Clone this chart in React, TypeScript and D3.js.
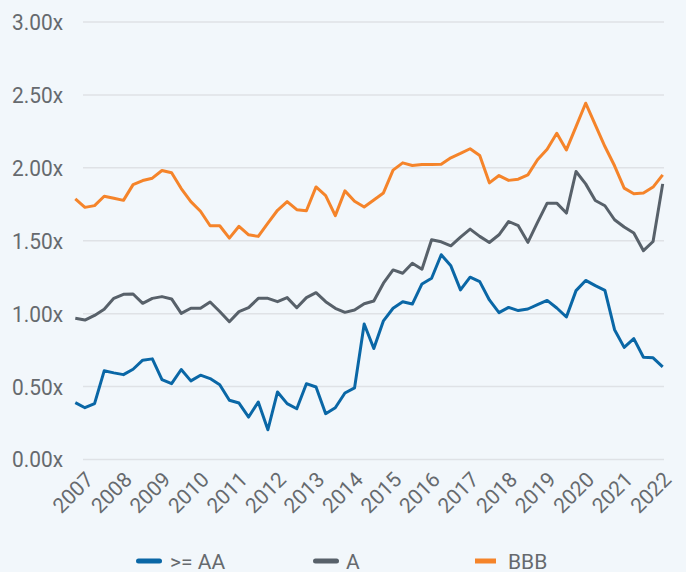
import * as d3 from "d3";

// quarterly points, Q1 2007 .. Q2 2022
const years = [
  "2007", "2008", "2009", "2010", "2011", "2012", "2013", "2014",
  "2015", "2016", "2017", "2018", "2019", "2020", "2021", "2022",
];

const aaPlus = [
  0.39, 0.355, 0.383, 0.608, 0.594, 0.582, 0.619, 0.681, 0.69, 0.548,
  0.52, 0.617, 0.539, 0.578, 0.555, 0.513, 0.406, 0.387, 0.291, 0.394,
  0.204, 0.463, 0.383, 0.348, 0.52, 0.497, 0.314, 0.355, 0.456, 0.491,
  0.929, 0.761, 0.951, 1.037, 1.082, 1.066, 1.204, 1.243, 1.404, 1.328,
  1.163, 1.25, 1.22, 1.094, 1.007, 1.043, 1.021, 1.032, 1.062, 1.091,
  1.039, 0.977, 1.158, 1.228, 1.192, 1.16, 0.89, 0.769, 0.829, 0.701,
  0.697, 0.635,
];

const singleA = [
  0.968, 0.956, 0.988, 1.03, 1.105, 1.133, 1.135, 1.071, 1.105, 1.117,
  1.101, 1.002, 1.037, 1.037, 1.08, 1.015, 0.945, 1.014, 1.041, 1.105,
  1.105, 1.082, 1.11, 1.041, 1.11, 1.144, 1.082, 1.037, 1.009, 1.025,
  1.068, 1.087, 1.209, 1.3, 1.277, 1.346, 1.305, 1.507, 1.493, 1.465,
  1.525, 1.58, 1.53, 1.488, 1.541, 1.632, 1.603, 1.489, 1.626, 1.758,
  1.758, 1.69, 1.975, 1.89, 1.776, 1.74, 1.644, 1.594, 1.553, 1.432,
  1.495, 1.89,
];

const bbb = [
  1.787, 1.729, 1.741, 1.805, 1.791, 1.777, 1.885, 1.913, 1.929, 1.982,
  1.966, 1.858, 1.768, 1.702, 1.603, 1.603, 1.518, 1.599, 1.541, 1.53,
  1.621, 1.709, 1.768, 1.713, 1.706, 1.869, 1.81, 1.672, 1.842, 1.771,
  1.732, 1.78, 1.828, 1.984, 2.034, 2.016, 2.023, 2.023, 2.025, 2.069,
  2.099, 2.131, 2.085, 1.897, 1.947, 1.914, 1.922, 1.952, 2.055, 2.128,
  2.237, 2.123, 2.283, 2.443, 2.295, 2.146, 2.014, 1.861, 1.822, 1.827,
  1.868, 1.952,
];

const yTicks = [0, 0.5, 1, 1.5, 2, 2.5, 3];

const series = [
  { name: ">= AA", values: aaPlus, color: "#0a67a6", cap: "round" },
  { name: "A", values: singleA, color: "#58616a", cap: "round" },
  { name: "BBB", values: bbb, color: "#f5842a", cap: "butt" },
];

const legendX = [136, 313, 475];

export default function App() {
  const width = 686;
  const height = 572;
  const font = "Roboto, sans-serif";
  const textColor = "#666a6e";

  const x = d3.scaleLinear().domain([0, aaPlus.length - 1]).range([75.3, 662.7]);
  const y = d3.scaleLinear().domain([0, 3]).range([459.5, 22]);

  const line = d3
    .line<number>()
    .x((d, i) => x(i))
    .y((d) => y(d));

  return (
    <svg
      width={width}
      height={height}
      style={{ position: "absolute", left: 0, top: 0, background: "#f2f7fb" }}
    >
      <g>
        {yTicks.map((t) => (
          <g key={t}>
            <line x1={83} x2={664} y1={y(t)} y2={y(t)} stroke="#dfe2e6" strokeWidth={1.5} />
            <text
              x={63}
              y={y(t)}
              dy="0.36em"
              textAnchor="end"
              fontFamily={font}
              fontSize={22}
              transform={`translate(63,0) scale(0.95,1) translate(-63,0)`}
              fill={textColor}
            >
              {d3.format(".2f")(t) + "x"}
            </text>
          </g>
        ))}
      </g>
      <g>
        {years.map((yr, k) => (
          <text
            key={yr}
            transform={`translate(${x(k * 4) + 19.5},481) rotate(-45)`}
            textAnchor="end"
            fontFamily={font}
            fontSize={21}
            fill={textColor}
          >
            {yr}
          </text>
        ))}
      </g>
      {series.map((s) => (
        <path
          key={s.name}
          d={line(s.values) ?? undefined}
          fill="none"
          stroke={s.color}
          strokeWidth={3}
          strokeLinejoin="round"
        />
      ))}
      <g>
        {series.map((s, i) => (
          <g key={s.name} transform={`translate(${legendX[i]},561)`}>
            <line
              x1={s.cap === "round" ? 2.5 : 0}
              x2={s.cap === "round" ? 23.5 : 21}
              y1={0}
              y2={0}
              stroke={s.color}
              strokeWidth={5}
              strokeLinecap={s.cap as "round" | "butt"}
            />
            <text
              x={s.name === ">= AA" ? 34 : 33}
              y={7.5}
              fontFamily={font}
              fontSize={21}
              fill={textColor}
            >
              {s.name}
            </text>
          </g>
        ))}
      </g>
    </svg>
  );
}
